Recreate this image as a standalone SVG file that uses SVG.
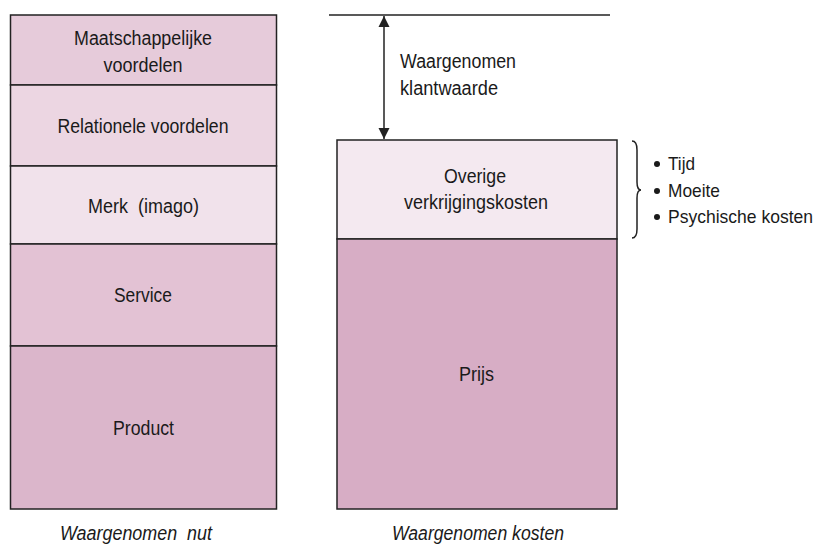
<svg xmlns="http://www.w3.org/2000/svg" width="829" height="559" viewBox="0 0 829 559">
<style>
text{font-family:"Liberation Sans",Arial,sans-serif;font-size:20px;fill:#1a1a1a}
.c{text-anchor:middle}
.i{font-style:italic}
.l{font-size:18.5px}
.box{stroke:#222;stroke-width:1.5}
.ln{stroke:#222;stroke-width:1.5;fill:none}
</style>
<defs>
<marker id="ah" viewBox="0 0 10 10" refX="10" refY="5" markerWidth="11" markerHeight="12" markerUnits="userSpaceOnUse" orient="auto-start-reverse">
<path d="M0,0 L10,5 L0,10 z" fill="#222"/>
</marker>
</defs>
<rect width="829" height="559" fill="#fff"/>
<g id="maatschappelijk"><rect class="box" x="10.5" y="15" width="266" height="70" fill="#e6cbda"/><text class="c" x="143" y="45" textLength="138" lengthAdjust="spacingAndGlyphs">Maatschappelijke</text><text class="c" x="143" y="72" textLength="79" lengthAdjust="spacingAndGlyphs">voordelen</text></g>
<g id="relationeel"><rect class="box" x="10.5" y="85" width="266" height="81" fill="#ecd6e2"/><text class="c" x="143" y="133" textLength="171" lengthAdjust="spacingAndGlyphs">Relationele voordelen</text></g>
<g id="merk"><rect class="box" x="10.5" y="166" width="266" height="78" fill="#f1e2eb"/><text class="c" x="143.5" y="213" textLength="111" lengthAdjust="spacingAndGlyphs" xml:space="preserve">Merk  (imago)</text></g>
<g id="service"><rect class="box" x="10.5" y="244" width="266" height="102" fill="#e3c2d4"/><text class="c" x="143" y="302" textLength="58" lengthAdjust="spacingAndGlyphs">Service</text></g>
<g id="product"><rect class="box" x="10.5" y="346" width="266" height="163" fill="#dbb6cb"/><text class="c" x="143.5" y="435" textLength="61" lengthAdjust="spacingAndGlyphs">Product</text></g>
<text class="c i" x="136" y="540" textLength="152" lengthAdjust="spacingAndGlyphs" xml:space="preserve">Waargenomen  nut</text>
<g id="overige"><rect class="box" x="337" y="140" width="280" height="99" fill="#f4e9f0"/><text class="c" x="475" y="183" textLength="62" lengthAdjust="spacingAndGlyphs">Overige</text><text class="c" x="476" y="209" textLength="144" lengthAdjust="spacingAndGlyphs">verkrijgingskosten</text></g>
<g id="prijs"><rect class="box" x="337" y="239" width="280" height="270" fill="#d7adc5"/><text class="c" x="476.5" y="381" textLength="35" lengthAdjust="spacingAndGlyphs">Prijs</text></g>
<text class="c i" x="478" y="540" textLength="172" lengthAdjust="spacingAndGlyphs">Waargenomen kosten</text>
<g id="connectors">
<line class="ln" x1="329" y1="15" x2="610" y2="15"/>
<line class="ln" x1="384" y1="16" x2="384" y2="139" marker-start="url(#ah)" marker-end="url(#ah)"/>
<path class="ln" stroke-width="1" d="M632,141 Q637,141 637,150 L637,182 Q637,190 641,190 Q637,190 637,198 L637,229 Q637,238 632,238"/>
</g>
<g id="lijst">
<circle cx="657" cy="164" r="3" fill="#1a1a1a"/><text class="l" x="668" y="170" textLength="27" lengthAdjust="spacingAndGlyphs">Tijd</text>
<circle cx="657" cy="191" r="3" fill="#1a1a1a"/><text class="l" x="668" y="197" textLength="52" lengthAdjust="spacingAndGlyphs">Moeite</text>
<circle cx="657" cy="217" r="3" fill="#1a1a1a"/><text class="l" x="668" y="223" textLength="145" lengthAdjust="spacingAndGlyphs">Psychische kosten</text>
</g>
<text x="400" y="68" textLength="116" lengthAdjust="spacingAndGlyphs">Waargenomen</text>
<text x="400" y="95" textLength="98" lengthAdjust="spacingAndGlyphs">klantwaarde</text>
</svg>
